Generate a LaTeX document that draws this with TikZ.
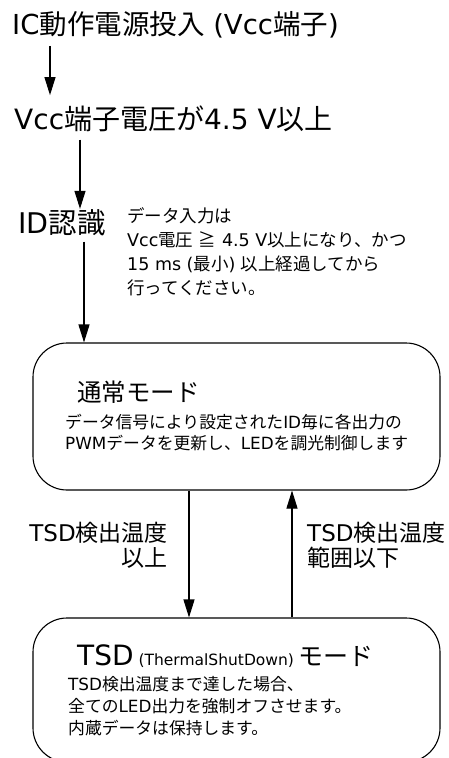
\documentclass[tikz,border=0pt]{standalone}
\usepackage{fontspec}
\setmainfont{Noto Sans CJK JP}
\newfontfamily\latfont{DejaVu Sans}
\newcommand{\lat}[1]{{\latfont #1}}
\usetikzlibrary{arrows.meta}
\begin{document}
\begin{tikzpicture}[x=1pt,y=1pt,
  txt/.style={inner sep=0pt, anchor=base west},
  big/.style={txt, font=\fontsize{27.5}{30}\selectfont},
  note/.style={txt, font=\fontsize{17.5}{22}\selectfont},
  body/.style={txt, font=\fontsize{16.8}{22}\selectfont},
  lab/.style={inner sep=0pt, font=\fontsize{23}{26}\selectfont},
  modebox/.style={draw, line width=1.1pt, rounded corners=34pt, inner sep=0pt},
  arr/.style={line width=1.1pt, -{Triangle[length=18pt,width=11pt]}}
]
\clip (0,0) rectangle (449,-758);
\fill[white] (0,0) rectangle (449,-758);

% top chain
\node[big] (title) at (12,-34) {\lat{IC}動作電源投入\lat{ (Vcc}端子\lat{)}};
\node[big, font=\fontsize{28}{30}\selectfont] (vcc) at (14,-129) {\lat{Vcc}端子電圧が\lat{4.5 V}以上};
\node[big, font=\fontsize{28.5}{30}\selectfont] (idr) at (18,-233) {\lat{ID}認識};

\node[note] (n1) at (127,-222) {データ入力は};
\node[note] (n2) at (127,-246) {\lat{Vcc}電圧\lat{ }≧\lat{ 4.5 V}以上になり、かつ};
\node[note] (n3) at (127,-270) {\lat{15 ms (}最小\lat{) }以上経過してから};
\node[note] (n4) at (127,-294) {行ってください。};

% boxes
\node[modebox, minimum width=407pt, minimum height=147pt] (normal) at (236.5,-416.5) {};
\node[modebox, minimum width=407pt, minimum height=144pt] (tsd) at (236.5,-690) {};

\node[txt, font=\fontsize{24.5}{28}\selectfont] (nt) at (77,-401) {通常モード};
\node[body] (nl1) at (65,-428) {データ信号により設定された\lat{ID}毎に各出力の};
\node[body] (nl2) at (65,-449) {\lat{PWM}データを更新し、\lat{LED}を調光制御します};

\node[txt] (tt) at (77,-665) {\fontsize{28}{30}\selectfont\lat{TSD}\fontsize{15.5}{16}\selectfont\lat{ (ThermalShutDown) }\fontsize{25}{28}\selectfont モード};
\node[body] (tl1) at (68,-690) {\lat{TSD}検出温度まで達した場合、};
\node[body] (tl2) at (68,-712) {全ての\lat{LED}出力を強制オフさせます。};
\node[body] (tl3) at (68,-734) {内蔵データは保持します。};

% transition labels
\node[lab, anchor=base east] (ll1) at (168,-541) {\lat{TSD}検出温度};
\node[lab, anchor=base east] (ll2) at (168,-566) {以上};
\node[lab, anchor=base west] (rl1) at (307,-541) {\lat{TSD}検出温度};
\node[lab, anchor=base west] (rl2) at (307,-566) {範囲以下};

% connectors
\draw[arr, shorten <=8pt, shorten >=10pt] (title.south -| 50,0) -- (vcc.north -| 50,0);
\draw[arr, shorten <=8pt, shorten >=0pt] (vcc.south -| 80,0) -- (idr.north -| 80,0);
\draw[arr, shorten <=6pt] (idr.south -| 84,0) -- (normal.north -| 84,0);
\draw[arr] (normal.south -| 189,0) -- (tsd.north -| 189,0);
\draw[arr] (tsd.north -| 292,0) -- (normal.south -| 292,0);
\end{tikzpicture}
\end{document}
